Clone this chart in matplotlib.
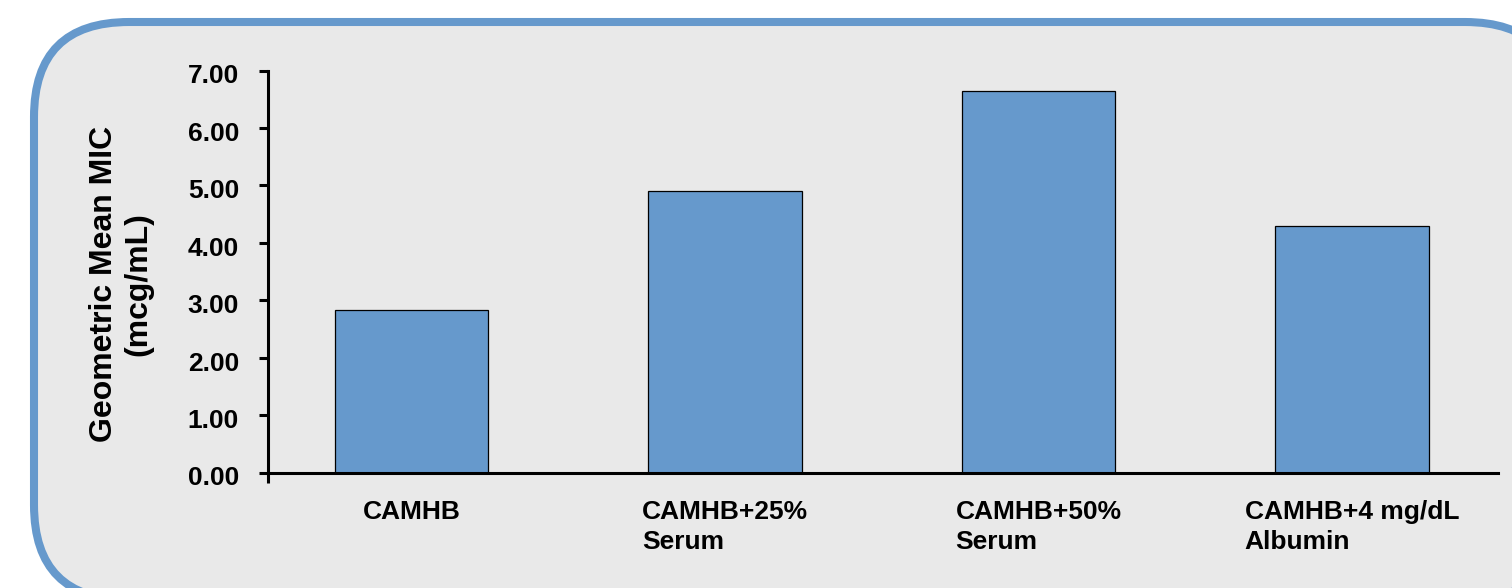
import matplotlib
matplotlib.use("Agg")
import matplotlib.pyplot as plt
import matplotlib.transforms as mtransforms
from matplotlib.patches import FancyBboxPatch
import numpy as np

media = ["CAMHB", "CAMHB+25%\nSerum", "CAMHB+50%\nSerum", "CAMHB+4 mg/dL\nAlbumin"]
geo_mean_mic = [2.83, 4.90, 6.65, 4.30]
yticks = [0, 1, 2, 3, 4, 5, 6, 7]

BLUE = "#6699cc"
PANEL = "#e9e9e9"

plt.rcParams["font.family"] = ["Liberation Sans", "DejaVu Sans"]
plt.rcParams["font.weight"] = "bold"

W, H = 1512, 588
fig = plt.figure(figsize=(W / 100, H / 100), dpi=100)
fig.patch.set_facecolor("white")

# rounded panel behind the chart, drawn in pixel units
bg = fig.add_axes([0, 0, 1, 1], zorder=0)
bg.set_xlim(0, W); bg.set_ylim(H, 0); bg.axis("off")
bg.add_patch(FancyBboxPatch((34, 22), 1560 - 34, 600 - 22,
                            boxstyle="round,pad=0,rounding_size=95",
                            fc=PANEL, ec=BLUE, lw=5.8))

ax = fig.add_axes([268 / W, (H - 472.5) / H, 1230 / W, (472.5 - 70.5) / H], zorder=1)
ax.patch.set_visible(False)

x = np.arange(len(media))
ax.bar(x, geo_mean_mic, width=0.49, color=BLUE, edgecolor="black", linewidth=0.9, zorder=2)

xmin, xmax = -0.4577, 3.4657
ax.set_xlim(xmin, xmax)
ax.set_ylim(0, 7)

for s in ("top", "right"):
    ax.spines[s].set_visible(False)
for s in ("left", "bottom"):
    ax.spines[s].set_linewidth(2.2)
    ax.spines[s].set_zorder(3)

ax.set_yticks(yticks, [f"{v:.2f}" for v in yticks])
ax.tick_params(axis="y", direction="out", length=6.8, width=2.2, pad=14, labelsize=19)
# value labels sit a little below their ticks
shift = mtransforms.ScaledTranslation(0, -2.5 / 72, fig.dpi_scale_trans)
for lab in ax.get_yticklabels():
    lab.set_transform(lab.get_transform() + shift)

ax.set_xticks(x, media, multialignment="left", linespacing=1.32)
ax.tick_params(axis="x", which="major", length=0, pad=20, labelsize=19)
ax.set_xticks([xmin], minor=True)
ax.tick_params(axis="x", which="minor", direction="out", length=7, width=2.2)

ax.set_ylabel("Geometric Mean MIC\n(mcg/mL)", fontsize=23, fontweight="bold")
ax.yaxis.set_label_coords(-0.093, 0.468)

fig.savefig("out.png", dpi=100, facecolor=fig.get_facecolor())
